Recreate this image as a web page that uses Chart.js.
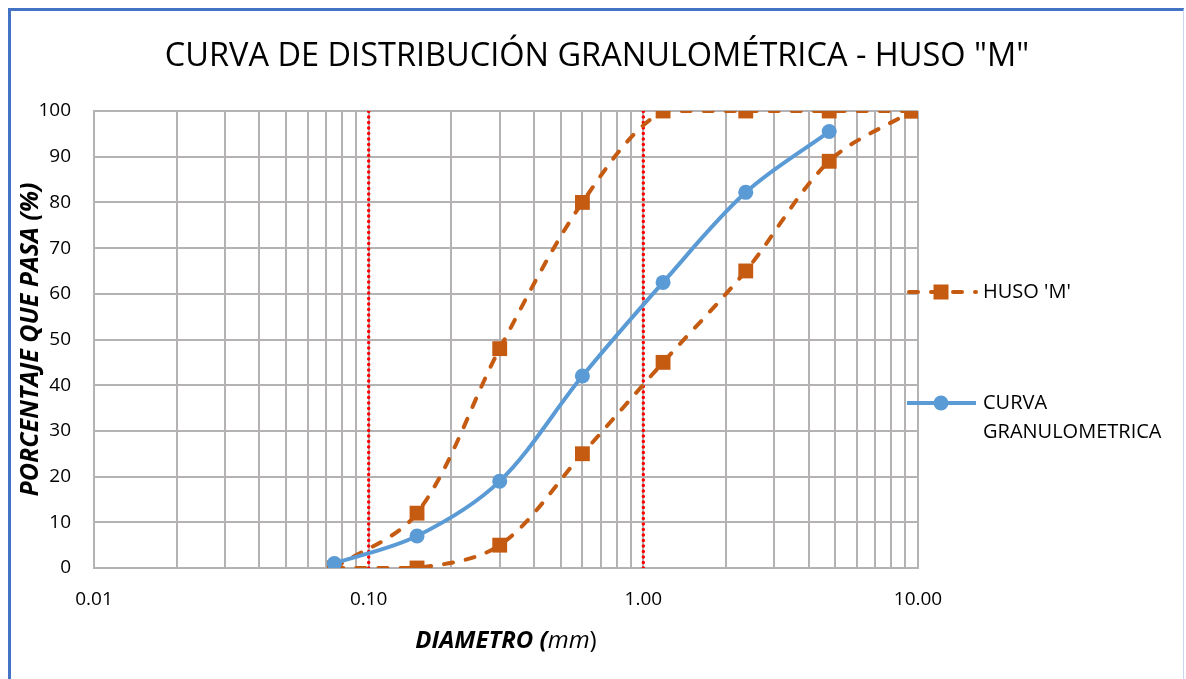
<!DOCTYPE html>
<html>
<head>
<meta charset="utf-8">
<script src="https://cdn.jsdelivr.net/npm/chart.js@4"></script>
<style>
  html, body { margin: 0; padding: 0; background: #fff; }
  #wrap { position: relative; width: 1186px; height: 679px; overflow: hidden; }
  #frame {
    position: absolute; left: 8px; top: 8px; width: 1176px; height: 700px;
    border-left: 3px solid #4472C4; border-top: 3px solid #4472C4; border-right: 1px solid #c9d4ee;
    box-sizing: border-box; pointer-events: none;
  }
  canvas { position: absolute; left: 0; top: 0; }
</style>
</head>
<body>
<div id="wrap">
  <canvas id="chart" width="1186" height="679"></canvas>
  <div id="frame"></div>
</div>
<script>
// curva granulometrica - huso "M"

const sieveSizes = [0.075, 0.15, 0.3, 0.6, 1.18, 2.36, 4.75, 9.5];
const husoUpper  = [0, 12, 48, 80, 100, 100, 100, 100];
const husoLower  = [0, 0, 5, 25, 45, 65, 89, 100];
const curvaSizes = [0.075, 0.15, 0.3, 0.6, 1.18, 2.36, 4.75];
const curvaPass  = [1, 7, 19, 42, 62.5, 82.2, 95.5];
const limitLines = [0.1, 1];
const xMajorTicks = [0.01, 0.1, 1, 10];
const yTicks = [0, 10, 20, 30, 40, 50, 60, 70, 80, 90, 100];

const TITLE = 'CURVA DE DISTRIBUCIÓN GRANULOMÉTRICA - HUSO "M"';
const FONT = '"Open Sans", "Liberation Sans", sans-serif';
const ORANGE = '#C55A11';
const BLUE = '#5B9BD5';
const DASH = [9, 13];

const pts = (xs, ys) => xs.map((x, i) => ({ x, y: ys[i] }));

// minor grid lines at 1..9 x each decade
const minorTicks = [];
xMajorTicks.forEach((m, i) => {
  if (i === xMajorTicks.length - 1) { minorTicks.push(m); return; }
  for (let k = 1; k < 10; k++) minorTicks.push(+(m * k).toPrecision(3));
});

const husoStyle = {
  borderColor: ORANGE, backgroundColor: ORANGE, borderWidth: 4, borderDash: DASH, borderCapStyle: 'round',
  pointStyle: 'rect', pointRadius: 10.5, pointBorderWidth: 0, pointHoverRadius: 10.5,
  tension: 0.33, fill: false
};

// lineas punteadas rojas (0.10 y 1.00 mm)
const limitDatasets = limitLines.map((v) => ({
  label: 'limite', data: [{ x: v, y: 0 }, { x: v, y: 100 }],
  borderColor: '#FF0000', borderWidth: 3.5, borderDash: [0.1, 5.4], borderCapStyle: 'round',
  pointRadius: 0, tension: 0, order: 5
}));

/* === custom texts & legend === */
const decor = {
  id: 'decor',
  afterDraw(chart) {
    const c = chart.ctx;
    const a = chart.chartArea;
    c.save();
    c.fillStyle = '#000';
    c.textBaseline = 'middle';

    // title
    c.font = `32.5px ${FONT}`;
    c.textAlign = 'center';
    c.fillText(TITLE, 597, 57);

    // y title
    c.save();
    c.translate(31, (a.top + a.bottom) / 2);
    c.rotate(-Math.PI / 2);
    c.font = `italic bold 25px ${FONT}`;
    c.fillText('PORCENTAJE QUE PASA (%)', 0, 0);
    c.restore();

    // x title: "DIAMETRO (" bold italic + "mm" italic + ")"
    const parts = [
      ['DIAMETRO (', `italic bold 24px ${FONT}`],
      ['mm', `italic 24px ${FONT}`],
      [')', `24px ${FONT}`]
    ];
    let w = 0;
    parts.forEach(([t, f]) => { c.font = f; w += c.measureText(t).width; });
    let x = (a.left + a.right) / 2 - w / 2;
    c.textAlign = 'left';
    parts.forEach(([t, f]) => { c.font = f; c.fillText(t, x, 641); x += c.measureText(t).width; });

    // legend
    c.lineWidth = 4;
    c.lineCap = 'round';
    c.strokeStyle = ORANGE;
    c.setLineDash(DASH);
    c.beginPath(); c.moveTo(909, 292); c.lineTo(976, 292); c.stroke();
    c.setLineDash([]);
    c.fillStyle = ORANGE;
    c.fillRect(941 - 7.5, 292 - 7.5, 15, 15);

    c.lineCap = 'butt';
    c.strokeStyle = BLUE;
    c.beginPath(); c.moveTo(907, 403); c.lineTo(976, 403); c.stroke();
    c.fillStyle = BLUE;
    c.beginPath(); c.arc(941, 403, 7.5, 0, Math.PI * 2); c.fill();

    c.fillStyle = '#000';
    c.font = `20px ${FONT}`;
    c.fillText("HUSO 'M'", 983, 292);
    c.fillText('CURVA', 983, 403);
    c.fillText('GRANULOMETRICA', 983, 432);
    c.restore();
  }
};

new Chart(document.getElementById('chart'), {
  type: 'line',
  data: {
    datasets: [
      { label: 'CURVA GRANULOMETRICA', data: pts(curvaSizes, curvaPass),
        borderColor: BLUE, backgroundColor: BLUE, borderWidth: 4,
        pointRadius: 7.5, pointBorderWidth: 0, pointHoverRadius: 7.5,
        tension: 0.33, order: 0 },
      { label: "HUSO 'M'", data: pts(sieveSizes, husoUpper), ...husoStyle, order: 1 },
      { label: "HUSO 'M' inf", data: pts(sieveSizes, husoLower), ...husoStyle, order: 2 },
      ...limitDatasets
    ]
  },
  options: {
    responsive: false,
    animation: false,
    events: [],
    layout: { padding: { top: 111, right: 268, left: 0, bottom: 0 } },
    plugins: { legend: { display: false }, title: { display: false }, tooltip: { enabled: false } },
    scales: {
      x: {
        type: 'logarithmic', min: 0.01, max: 10,
        afterFit: (s) => { s.height = 111; },
        afterBuildTicks: (s) => { s.ticks = minorTicks.map((v) => ({ value: v, major: xMajorTicks.includes(v) })); },
        ticks: {
          autoSkip: false, maxRotation: 0, padding: 20, color: '#000',
          font: { family: FONT, size: 19 },
          callback: (v) => xMajorTicks.includes(v) ? v.toFixed(2) : ''
        },
        grid: { color: '#b4b2b2', lineWidth: 2, drawTicks: false },
        border: { color: '#b4b2b2', width: 2 }
      },
      y: {
        min: 0, max: 100,
        afterFit: (s) => { s.width = 94; },
        afterBuildTicks: (s) => { s.ticks = yTicks.map((v) => ({ value: v })); },
        ticks: { padding: 23, color: '#000', font: { family: FONT, size: 19 } },
        grid: { color: '#b4b2b2', lineWidth: 2, drawTicks: false },
        border: { color: '#b4b2b2', width: 2 }
      }
    }
  },
  plugins: [decor]
});
</script>
</body>
</html>
